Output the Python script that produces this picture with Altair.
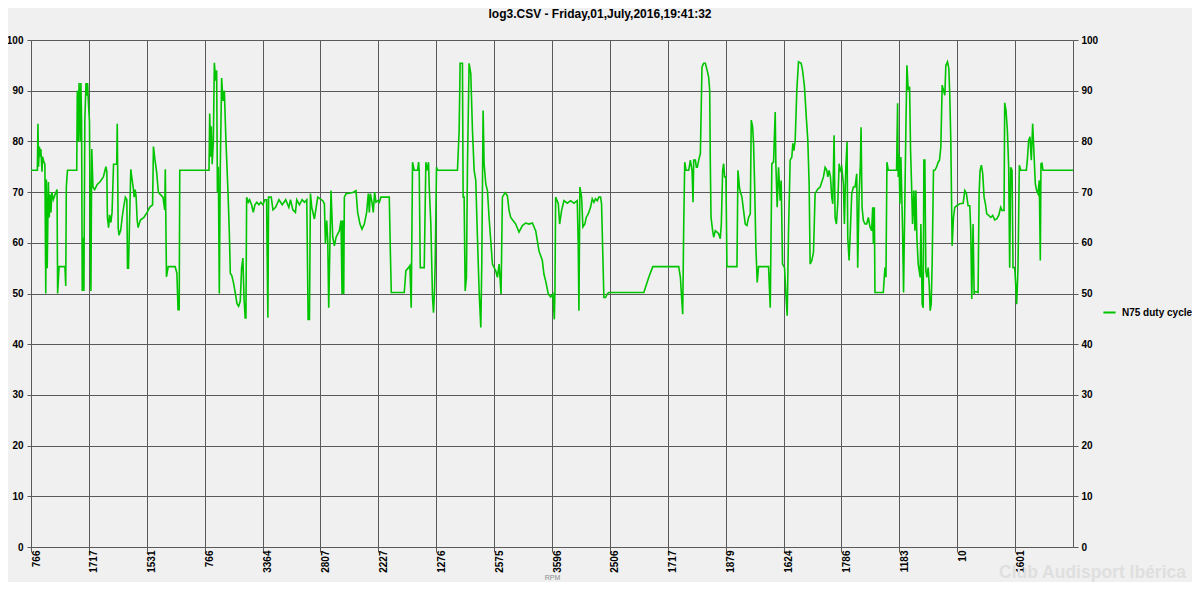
import altair as alt
import pandas as pd

title_text = "log3.CSV - Friday,01,July,2016,19:41:32"
series_name = "N75 duty cycle"
x_title = "RPM"
watermark = "Club Audisport Ibérica"

# RPM value shown at every 100th sample (bottom axis labels)
rpm_labels = ["766", "1717", "1531", "766", "3364", "2807", "2227", "1276", "2575",
              "3596", "2506", "1717", "1879", "1624", "1786", "1183", "10", "1601"]

# sample index along the log
sample_idx = [
    0, 11, 12, 13, 14.5, 16, 17, 19, 20, 22, 24, 25.5, 26.5, 28, 30, 31.5, 33, 34.5, 36, 38.5,
    41.5, 45, 46, 48.5, 58.6, 60, 61, 63, 79, 80, 81.6, 83, 85, 86.2, 87.4, 88.5, 90, 91.4, 93, 95,
    96.6, 97.7, 99.5, 101, 102.3, 103.5, 105, 107, 110, 114.4, 119, 125, 129.4, 131, 132, 134, 135.7, 138, 140, 142.6,
    148, 149, 150.6, 152, 155, 157.5, 160, 163, 165.6, 166.7, 168.4, 170, 172.4, 174, 176.5, 178.2, 180, 181.6, 183.4, 185,
    189, 195, 200.6, 205, 210, 211.5, 214, 217, 220, 223.6, 228, 231, 232, 234, 237, 249, 252, 254, 256, 257,
    307.5, 308.7, 310.4, 311.5, 313, 315, 316.7, 319, 320.7, 322, 323.6, 325.3, 327, 329.3, 331.6, 334, 336.8, 340.3, 342.6, 344.3,
    347, 350, 353, 355.8, 358.7, 361.5, 363.8, 366, 368, 370, 371.3, 372.5, 375.3, 377.6, 381, 384, 386.8, 390, 393.7, 397,
    400.6, 404, 407, 408, 409.2, 410.4, 415, 418, 422.5, 428.3, 434, 440, 445.4, 448.3, 452.4,
    456.8, 459.1, 463.7, 468.3, 472.4, 476.4, 478.7, 481, 482.7, 485, 489.6, 495.3, 504, 506.8, 508.6, 510.9, 512.6, 514.3, 516.6, 518.3,
    521.2, 524.1, 527, 532.7, 535.6, 537.3, 538.5, 540.2, 541.3, 544.2, 555.7, 561.4, 564.3, 568.3, 571.8, 575.8, 579.8, 582.7, 584.4, 586.2,
    589, 591.3, 593.6, 595.9, 598.8, 601.7, 604.5, 618.9, 620.6, 622.4, 644.8, 647.6, 652.2, 654.5, 656.8, 659.1, 662, 667.8, 669.5, 670.6,
    672.4, 679.3, 682.1, 684.4, 686.7, 687.9, 690.7, 693.6, 695.3, 697, 698.2, 700.5, 702.2, 736.7, 739.6, 741.3, 745.3, 746.5, 748.2, 750,
    752.2, 754, 756.8, 759.7, 762.6, 765.5, 768.3, 771.2, 774.1, 777, 778.7, 781, 782.7, 785.6, 788.5, 791.3, 794.2, 797.1, 800, 802.8,
    805.7, 808.6, 812, 814.3, 818.9, 822.9, 825.8, 828.7, 832.7, 837.3, 843, 848.8, 854.5, 860.3, 866, 871.8, 874.7, 877.5, 883.3, 886.1,
    889, 893.6, 897.6, 901.7, 904, 905.1, 906.3, 910.9, 913.2, 916.6, 920.6, 926.4, 932.1, 937.9, 943.6, 945.3, 946.5,
    948.2, 951.1, 953.4, 956.8, 959.1, 962.6, 966.6, 969.5, 972.4, 975.2, 978.1, 981, 983.9, 985.6, 987.9, 989.6, 992.5, 995.4, 998.2, 1058.6,
    1067.2, 1074.1, 1118.9, 1121.8, 1123.5, 1125.8, 1127.5, 1129.3, 1131.6, 1136.2, 1139, 1141.9, 1143.6, 1144.8, 1147.6, 1149.4, 1151.1, 1153.4, 1156.3, 1159.1,
    1162, 1164.9, 1167.8, 1170.6, 1172.4, 1173.5, 1174.7, 1177.5, 1179.3, 1182.1, 1185, 1187.9, 1190.7, 1192.5, 1194.8, 1196.5, 1198.2, 1200.5, 1202.2, 1219.5,
    1221.2, 1224.1, 1228.1, 1231, 1233.9, 1236.7, 1239.6, 1242.5, 1244.2, 1246.5, 1248.2, 1250, 1252.2, 1254.5, 1256.8, 1274.1, 1277, 1279.8, 1282.7, 1285.6,
    1286.7, 1289, 1291.3, 1294.2, 1295.9, 1298.2, 1301.7, 1304, 1306.3, 1308.6, 1311.4, 1314.3, 1316, 1317.8, 1320.1, 1322.9, 1325.8, 1330.4, 1332.7, 1336.1,
    1339.6, 1341.9, 1344.2, 1345.9, 1348.8, 1351.7, 1354.5, 1359.1, 1363.2, 1368.9, 1371.8, 1374.7, 1376.4, 1378.7, 1381, 1383.3, 1385, 1387.3, 1389, 1391.3,
    1393.6, 1396, 1398.2, 1400.5, 1403.4, 1405.1, 1407.4, 1409.7, 1410.9, 1413.2, 1414.9, 1417.8, 1420.6, 1423.5, 1426.4, 1428.1, 1430.4, 1432.7, 1433.9, 1435.6,
    1437.9, 1440.7, 1443.6, 1446.5, 1449.4, 1452.2, 1454, 1455.1, 1456.8,
    1457.9, 1472.3, 1475.1, 1476.9, 1478.6, 1480.9, 1495.2, 1497, 1498.1, 1499.3, 1501, 1502.7, 1503.9, 1505.6, 1507.3, 1509.6, 1511.3, 1513.1, 1515.4, 1517.7,
    1519.4, 1521.1, 1522.8, 1525.1, 1526.9, 1528.6, 1530.3, 1532.6, 1534.3, 1536, 1537.2, 1539.5, 1541.2, 1542.4, 1544.1, 1545.8, 1547.5, 1549.8, 1551.6, 1553.3,
    1555, 1556.7, 1559, 1561.3, 1564.2, 1567.1, 1569.4, 1571.7, 1574, 1576.3, 1578.6, 1580.3, 1583.2, 1585.5, 1587.2, 1588.9, 1591.2, 1593.5, 1595.8, 1598.7,
    1604.4, 1610.2, 1613.1, 1615.9, 1618.8, 1621.7, 1623.4, 1625.1, 1627.4, 1629.2, 1630.3, 1636, 1637.8, 1639.5, 1641.8, 1644.1, 1646.4, 1648.7, 1651, 1654.4,
    1657.9, 1661.3, 1664.8, 1668.2, 1671.7, 1675.1, 1677.4, 1680.9, 1682, 1684.3, 1686.6, 1688.9, 1690.6, 1692.4, 1694.7, 1696.4, 1699.3, 1701, 1702.7, 1705,
    1707.3, 1709.6, 1719.4, 1721.1, 1723.4, 1725.7, 1728, 1730.3, 1732.6, 1734.9, 1737.2, 1739.5, 1741.8, 1743.5, 1744.7, 1746.4, 1748.1, 1800,
]

# N75 duty cycle (%)
n75_duty = [
    74.3, 74.3, 83.5, 75, 79, 77, 78.5, 74, 77, 76, 75.5, 50, 72.5, 55, 72, 65, 69.5, 66, 70, 68.5,
    69.5, 70.5, 50, 55.3, 55.3, 51.5, 71, 74.3, 74.3, 90, 80, 91.5, 80, 91.5, 84, 50.5, 61, 50.5, 84, 91.5,
    89, 91.5, 87, 84, 63, 50.5, 78.5, 71, 70.5, 71.5, 72, 73, 75, 74, 65, 63, 65.5, 64, 66, 75.5,
    75.5, 83.5, 63, 61.5, 62.5, 65, 67, 69, 68.5, 55, 55, 63, 74.5, 73, 71, 69, 70.5, 69, 64.5, 63,
    64.5, 65, 66, 67, 67.5, 79, 76.5, 74, 70, 69.5, 69, 66.5, 74.5, 53.3, 55.3, 55.3, 54, 46.8, 46.8, 74.3,
    74.3, 85.5, 77, 83, 75.5, 80, 95.5, 92, 94, 70, 75, 50, 75, 92.5, 88, 90, 80, 70, 62, 54,
    53.5, 52, 50, 48, 47.5, 48.5, 55, 57, 49, 45.2, 45.2, 69, 68, 68.5, 67.5, 66, 67.5, 68, 67.5, 68,
    67.5, 68.5, 68.5, 57, 45.2, 69, 69, 66.5, 67, 68.5, 67.5, 68.5, 67, 68.5, 66.5,
    66, 68.5, 67.5, 68.5, 68, 68.5, 44.9, 44.9, 69.7, 67, 64.7, 69, 68.3, 67.7, 59.8, 64.4, 60.4, 47.2, 61.1, 70.3,
    61.1, 59.4, 61.1, 62.4, 64.4, 49.9, 64.4, 49.9, 69, 69.7, 69.9, 70.3, 66, 63.7, 62.7, 63.7, 66, 69.7, 66, 69.7,
    68, 66, 70, 68, 68.3, 68, 69, 69, 59.1, 50.2, 50.2, 54.5, 55.1, 55.5, 47.2, 75.9, 74.3, 74.3, 75.9, 74.3,
    55.1, 55.1, 75.9, 74.3, 75.9, 71, 63.7, 49.2, 46.2, 50.5, 55.8, 74.9, 74.3, 74.3, 82.2, 95.4, 95.4, 69, 69, 50.5,
    53.2, 75.6, 95.4, 93.4, 82.2, 74.3, 72.3, 61.1, 50.5, 43.3, 55.8, 86.1, 75.6, 71.6, 70.3, 65, 60.4, 55.8, 55.1, 54.5,
    53.2, 55.8, 49.9, 69, 69.9, 69.3, 66.4, 65, 64.4, 63.7, 62.1, 63.4, 63.9, 63.7, 63.9, 62.4, 60.4, 58.4, 56.5, 53.8,
    52.5, 49.9, 49.3, 49.9, 44.9, 50.5, 69, 67.7, 63.7, 66.4, 68.3, 67.8, 68.3, 67.8, 68.3, 59.8, 46.6,
    71, 69, 63.1, 63.7, 65, 65.7, 67, 68.7, 68, 68.7, 68.3, 69, 69, 67.7, 57.1, 49.2, 49.2, 49.9, 50.2, 50.2,
    53.2, 55.3, 55.3, 53.2, 49.9, 45.9, 63.1, 75.9, 74.3, 74.3, 76.3, 74.3, 68, 76.3, 76.3, 74.9, 74.9, 76.3, 77.6, 94.7,
    95.4, 95.4, 94.1, 92.7, 90.1, 75.6, 65, 62.4, 61.1, 62.4, 62.1, 61.8, 60.8, 63.7, 74.3, 75.6, 73, 73, 55.3, 55.3,
    74.3, 70.6, 69, 66.3, 63.7, 63.4, 65, 65.7, 84.2, 82.9, 79.6, 71.6, 59.1, 52.2, 55.3, 55.3, 47.2, 75.6, 75.9, 85.8,
    75.6, 67, 74.9, 68.3, 72.3, 55.8, 55.1, 49.9, 45.6, 62.4, 76.3, 76.9, 79.6, 78.2, 80.2, 90.1, 95.7, 95.4, 94.1, 90.8,
    84.2, 80.2, 71.6, 55.8, 56.5, 58.1, 69.7, 70.6, 71, 73, 74.9, 74.3, 73, 74.3, 73, 69, 67.7, 81.2, 65, 63.7,
    67.7, 75.6, 74.3, 74.9, 71.6, 63.7, 74.3, 79.9, 61.1, 56.5, 61.1, 69.7, 71, 71, 73.6, 55.1, 69, 75.6, 82.8, 67,
    64.4, 63.7, 63.7, 65, 63.1, 62.4, 67, 59.8, 67,
    50.2, 50.2, 55.1, 53.2, 75.9, 74.3, 74.3, 87.5, 73, 77.6, 67.7, 76.9, 71, 62.4, 50.2, 69, 82.2, 95, 90.1, 90.8,
    78.2, 71.6, 63.7, 70.3, 62.4, 70.3, 61.1, 55.8, 54.5, 53.2, 63.7, 47.9, 47.2, 76.3, 76.3, 54.5, 53.2, 55.1, 51.8, 46.6,
    47.9, 55.8, 74.3, 74.3, 74.9, 75.9, 76.3, 78.9, 91.1, 90.1, 89.1, 95, 95.7, 94.4, 88.8, 80.2, 59.4, 65, 67, 67.3,
    67.7, 67.8, 70.3, 69.7, 67.3, 67.3, 62.4, 48.9, 63.7, 49.9, 50.5, 50.2, 69.7, 74.3, 75.3, 73.6, 69, 67.7, 65.7, 65.4,
    65, 65.4, 64.5, 64.7, 65.4, 67, 66.4, 66.4, 87.6, 86.1, 82.2, 74.9, 55.1, 74.9, 74.3, 55.1, 55.1, 51.8, 47.9, 55.1,
    75.3, 74.3, 74.3, 76.3, 80.2, 80.9, 76.3, 83.5, 77.6, 71.6, 70.3, 69.7, 72.3, 56.5, 75.6, 75.7, 74.3, 74.3,
]

y_ticks = list(range(0, 101, 10))
x_ticks = [i * 100 for i in range(len(rpm_labels))]

df = pd.DataFrame({"sample": sample_idx, "duty": n75_duty})
df["series"] = series_name
wm_df = pd.DataFrame({"t": [watermark]})

FONT = "Liberation Sans"
GRID = "#5a5a5a"
GREEN = "#00c400"

labels_js = "[" + ",".join("'" + l + "'" for l in rpm_labels) + "]"

x_scale = alt.Scale(domain=[0, 1800], nice=False, zero=False)
y_scale = alt.Scale(domain=[0, 100], nice=False)

x_axis = alt.Axis(values=x_ticks, labelExpr=labels_js + "[round(datum.value/100)]",
                  labelAngle=270, labelAlign="right", labelBaseline="top",
                  labelFont=FONT, labelFontSize=10, labelFontWeight="bold", labelColor="#000000",
                  labelPadding=-2, tickSize=5, tickColor=GRID, grid=True, gridColor=GRID,
                  gridOpacity=1, gridWidth=1, domainColor=GRID, labelOverlap=False,
                  title=x_title, titleFont=FONT, titleFontSize=7, titleFontWeight="normal",
                  titleColor="#8a8a8a", titlePadding=1)

line = alt.Chart(df).mark_line(strokeWidth=1.6, interpolate="linear").encode(
    x=alt.X("sample:Q", scale=x_scale, axis=x_axis),
    y=alt.Y("duty:Q", scale=y_scale,
            axis=alt.Axis(values=y_ticks, orient="left", grid=True, gridColor=GRID, gridOpacity=1,
                          tickSize=4, tickColor=GRID, domainColor=GRID, labelPadding=4,
                          labelFont=FONT, labelFontSize=10, labelFontWeight="bold", labelColor="#000000",
                          title=None)),
    color=alt.Color("series:N", scale=alt.Scale(domain=[series_name], range=[GREEN]),
                    legend=alt.Legend(title=None, orient="none", legendX=1071, legendY=265,
                                      symbolType="stroke", symbolStrokeWidth=2, symbolSize=150,
                                      labelFont=FONT, labelFontSize=10, labelFontWeight="bold",
                                      labelColor="#000000", labelOffset=5)),
)

right_axis = alt.Chart(df).mark_line(opacity=0).encode(
    x=alt.X("sample:Q", scale=x_scale, axis=x_axis),
    y=alt.Y("duty:Q", scale=y_scale,
            axis=alt.Axis(values=y_ticks, orient="right", grid=False, tickSize=5, tickColor=GRID,
                          domainColor=GRID, labelPadding=3,
                          labelFont=FONT, labelFontSize=10, labelFontWeight="bold", labelColor="#000000",
                          title=None)),
)

wm = alt.Chart(wm_df).mark_text(align="left", baseline="middle", font=FONT, fontSize=17.5,
                                fontWeight="bold", color="#dfdfdf").encode(
    text="t:N", x=alt.value(968), y=alt.value(533))

chart = alt.layer(wm, line, right_axis).resolve_axis(y="independent").properties(
    width=1042, height=507,
    title=alt.TitleParams(title_text, font=FONT, fontSize=12, fontWeight="bold", color="#000000",
                          anchor="middle", frame="group", dx=48, offset=14),
    autosize=alt.AutoSizeParams(type="none"),
    padding={"left": 23, "top": 32, "right": 119, "bottom": 35},
).configure(background="#f0f0f0").configure_view(stroke=None)

chart.save("out.html", embed_options={"renderer": "svg", "actions": False})
